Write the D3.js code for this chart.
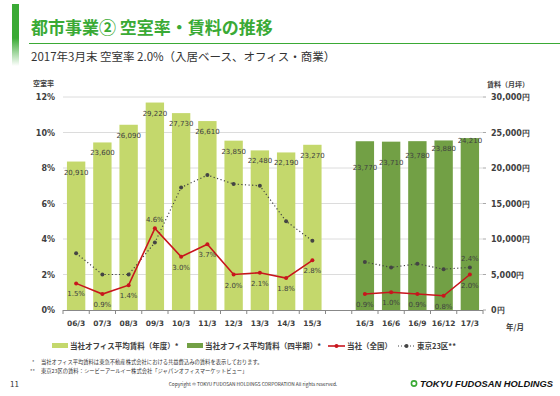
<!DOCTYPE html>
<html>
<head>
<meta charset="utf-8">
<script src="https://cdn.jsdelivr.net/npm/d3@7"></script>
<style>
  body { margin: 0; background: #fff; }
  svg { font-family: "Noto Sans CJK JP", "Noto Sans", sans-serif; }
</style>
</head>
<body>
<svg width="560" height="396"></svg>
<script>
var svg = d3.select('svg');

// annual (fiscal year) series
var annualLabels = ['06/3', '07/3', '08/3', '09/3', '10/3', '11/3', '12/3', '13/3', '14/3', '15/3'];
var annualRent = [20910, 23600, 26090, 29220, 27730, 26610, 23850, 22480, 22190, 23270];
var annualVacancy = [1.5, 0.9, 1.4, 4.6, 3.0, 3.7, 2.0, 2.1, 1.8, 2.8];
var annualTokyo = [3.2, 2.0, 2.0, 3.8, 6.9, 7.6, 7.1, 7.0, 5.0, 3.9];

// quarterly series
var quarterLabels = ['16/3', '16/6', '16/9', '16/12', '17/3'];
var quarterRent = [23770, 23710, 23780, 23880, 24210];
var quarterVacancy = [0.9, 1.0, 0.9, 0.8, 2.0];
var quarterTokyo = [2.7, 2.4, 2.6, 2.3, 2.4];

var vacancyTicks = [0, 2, 4, 6, 8, 10, 12];
var rentTicks = [0, 5000, 10000, 15000, 20000, 25000, 30000];

var categories = annualLabels.concat([' '], quarterLabels);

var x = d3.scaleBand().domain(categories).range([63, 483]).paddingInner(0.3).paddingOuter(0.15);
var yV = d3.scaleLinear().domain([0, 12]).range([310, 97]);
var yR = d3.scaleLinear().domain([0, 30000]).range([310, 97]);

var textCol = '#404040';
var lightGreen = '#c4d86c';
var darkGreen = '#72a045';
var red = '#c8161d';
var numFont = 'Verdana, DejaVu Sans, sans-serif';

// header
var grad = svg.append('defs').append('linearGradient')
    .attr('id', 'side').attr('x1', 0).attr('y1', 0).attr('x2', 0).attr('y2', 1);
grad.append('stop').attr('offset', '0%').attr('stop-color', '#3aaa35');
grad.append('stop').attr('offset', '55%').attr('stop-color', '#3aaa35');
grad.append('stop').attr('offset', '100%').attr('stop-color', '#ffffff');
svg.append('rect').attr('x', 12).attr('y', 4).attr('width', 7).attr('height', 62).attr('fill', 'url(#side)');

svg.append('text').attr('x', 31).attr('y', 34)
    .attr('font-size', 17).attr('font-weight', 'bold').attr('fill', '#3aaa35')
    .text('都市事業② 空室率・賃料の推移');
svg.append('line').attr('x1', 29).attr('x2', 560).attr('y1', 43.5).attr('y2', 43.5)
    .attr('stroke', '#3aaa35').attr('stroke-width', 1);
svg.append('text').attr('x', 31).attr('y', 61)
    .attr('font-size', 11.5).attr('fill', '#333')
    .text('2017年3月末 空室率 2.0%（入居ベース、オフィス・商業）');

// grid
var g = svg.append('g');
g.selectAll('.grid').data(vacancyTicks.slice(1)).enter().append('line')
    .attr('x1', 63).attr('x2', 483)
    .attr('y1', function(d) { return yV(d); }).attr('y2', function(d) { return yV(d); })
    .attr('stroke', '#dcdcdc').attr('stroke-width', 1);

// bars
g.selectAll('.abar').data(annualLabels).enter().append('rect')
    .attr('x', function(d) { return x(d); })
    .attr('width', x.bandwidth())
    .attr('y', function(d, i) { return yR(annualRent[i]); })
    .attr('height', function(d, i) { return 310 - yR(annualRent[i]); })
    .attr('fill', lightGreen);
g.selectAll('.qbar').data(quarterLabels).enter().append('rect')
    .attr('x', function(d) { return x(d); })
    .attr('width', x.bandwidth())
    .attr('y', function(d, i) { return yR(quarterRent[i]); })
    .attr('height', function(d, i) { return 310 - yR(quarterRent[i]); })
    .attr('fill', darkGreen);

// x axis
var cx = function(d) { return x(d) + x.bandwidth() / 2; };
g.append('line').attr('x1', 63).attr('x2', 483).attr('y1', 310.5).attr('y2', 310.5)
    .attr('stroke', '#888');
g.selectAll('.xt').data(d3.range(categories.length + 1)).enter().append('line')
    .attr('x1', function(i) { return 63 + i * (420 / categories.length); })
    .attr('x2', function(i) { return 63 + i * (420 / categories.length); })
    .attr('y1', 310).attr('y2', 314).attr('stroke', '#888');
g.selectAll('.xl').data(categories).enter().append('text')
    .attr('x', cx).attr('y', 326)
    .attr('text-anchor', 'middle').attr('font-size', 7.5).attr('font-weight', 'bold')
    .attr('fill', textCol).attr('font-family', numFont)
    .text(function(d) { return d; });

// left axis
g.selectAll('.yl').data(vacancyTicks).enter().append('text')
    .attr('x', 55).attr('y', function(d) { return yV(d) + 3; })
    .attr('text-anchor', 'end').attr('font-size', 8).attr('font-weight', 'bold')
    .attr('fill', textCol).attr('font-family', numFont)
    .text(function(d) { return d + '%'; });
svg.append('text').attr('x', 33).attr('y', 86).attr('font-size', 7).attr('font-weight', 'bold')
    .attr('fill', textCol).text('空室率');

// right axis
g.selectAll('.rt').data(rentTicks).enter().append('line')
    .attr('x1', 483).attr('x2', 486)
    .attr('y1', function(d) { return yR(d); }).attr('y2', function(d) { return yR(d); })
    .attr('stroke', '#aaa');
g.selectAll('.rl').data(rentTicks).enter().append('text')
    .attr('x', 491).attr('y', function(d) { return yR(d) + 3; })
    .attr('font-size', 8).attr('font-weight', 'bold')
    .attr('fill', textCol).attr('font-family', numFont)
    .text(function(d) { return d3.format(',')(d) + '円'; });
svg.append('text').attr('x', 487).attr('y', 87).attr('font-size', 7).attr('font-weight', 'bold')
    .attr('fill', textCol).text('賃料（月坪）');
svg.append('text').attr('x', 506).attr('y', 330).attr('font-size', 7.5).attr('font-weight', 'bold')
    .attr('fill', textCol).text('年/月');

// rent labels
g.selectAll('.ral').data(annualLabels).enter().append('text')
    .attr('x', cx).attr('y', function(d, i) { return yR(annualRent[i]) + 13; })
    .attr('text-anchor', 'middle').attr('font-size', 7).attr('font-family', numFont)
    .attr('fill', textCol).text(function(d, i) { return d3.format(',')(annualRent[i]); });
g.selectAll('.rql').data(quarterLabels).enter().append('text')
    .attr('x', cx).attr('y', function(d, i) { return yR(quarterRent[i]) + 29 - i * 6; })
    .attr('text-anchor', 'middle').attr('font-size', 7).attr('font-family', numFont)
    .attr('fill', textCol).text(function(d, i) { return d3.format(',')(quarterRent[i]); });

// lines
var line = function(labels, vals) {
    return d3.line().x(function(d, i) { return cx(labels[i]); }).y(function(d) { return yV(d); })(vals);
};
[[annualLabels, annualTokyo], [quarterLabels, quarterTokyo]].forEach(function(s) {
    g.append('path').attr('d', line(s[0], s[1])).attr('fill', 'none')
        .attr('stroke', '#444').attr('stroke-width', 1.2).attr('stroke-dasharray', '1.2,2.4');
    g.selectAll(null).data(s[1]).enter().append('circle')
        .attr('cx', function(d, i) { return cx(s[0][i]); }).attr('cy', function(d) { return yV(d); })
        .attr('r', 2).attr('fill', '#444');
});
[[annualLabels, annualVacancy], [quarterLabels, quarterVacancy]].forEach(function(s) {
    g.append('path').attr('d', line(s[0], s[1])).attr('fill', 'none')
        .attr('stroke', red).attr('stroke-width', 1.6);
    g.selectAll(null).data(s[1]).enter().append('circle')
        .attr('cx', function(d, i) { return cx(s[0][i]); }).attr('cy', function(d) { return yV(d); })
        .attr('r', 2).attr('fill', red);
    g.selectAll(null).data(s[1]).enter().append('text')
        .attr('x', function(d, i) { return cx(s[0][i]); })
        .attr('y', function(d) { return d > 4 ? yV(d) - 6 : yV(d) + 13; })
        .attr('text-anchor', 'middle').attr('font-size', 7).attr('font-family', numFont)
        .attr('fill', textCol).text(function(d) { return d.toFixed(1) + '%'; });
});
// latest Tokyo label
var lastT = quarterTokyo[quarterTokyo.length - 1];
g.append('text').attr('x', cx('17/3')).attr('y', yV(lastT) - 6)
    .attr('text-anchor', 'middle').attr('font-size', 7).attr('font-family', numFont)
    .attr('fill', textCol).text(lastT.toFixed(1) + '%');

// legend
var lg = svg.append('g').attr('font-size', 7.5).attr('font-weight', 'bold').attr('fill', textCol);
lg.append('rect').attr('x', 52).attr('y', 343).attr('width', 16).attr('height', 5).attr('fill', lightGreen);
lg.append('text').attr('x', 70).attr('y', 349).text('当社オフィス平均賃料（年度）*');
lg.append('rect').attr('x', 187).attr('y', 343).attr('width', 16).attr('height', 5).attr('fill', darkGreen);
lg.append('text').attr('x', 205).attr('y', 349).text('当社オフィス平均賃料（四半期）*');
lg.append('line').attr('x1', 328).attr('x2', 345).attr('y1', 346).attr('y2', 346).attr('stroke', red).attr('stroke-width', 1.6);
lg.append('circle').attr('cx', 336.5).attr('cy', 346).attr('r', 2).attr('fill', red);
lg.append('text').attr('x', 347).attr('y', 349).text('当社（全国）');
lg.append('line').attr('x1', 398).attr('x2', 415).attr('y1', 346).attr('y2', 346).attr('stroke', '#444')
    .attr('stroke-width', 1).attr('stroke-dasharray', '1,2');
lg.append('circle').attr('cx', 406.5).attr('cy', 346).attr('r', 2).attr('fill', '#444');
lg.append('text').attr('x', 417).attr('y', 349).text('東京23区**');

// footnotes
var fn = svg.append('g').attr('font-size', 5.3).attr('fill', '#333');
fn.append('text').attr('x', 32).attr('y', 364).text('*');
fn.append('text').attr('x', 41).attr('y', 364).text('当社オフィス平均賃料は東急不動産株式会社における共益費込みの賃料を表示しております。');
fn.append('text').attr('x', 30).attr('y', 373).text('**');
fn.append('text').attr('x', 41).attr('y', 373).text('東京23区の賃料：シービーアールイー株式会社「ジャパンオフィスマーケットビュー」');

svg.append('text').attr('x', 10).attr('y', 387).attr('font-size', 8).attr('fill', '#333').text('11');
svg.append('text').attr('x', 253).attr('y', 386).attr('text-anchor', 'middle').attr('font-size', 4.8)
    .attr('fill', '#333').text('Copyright © TOKYU FUDOSAN HOLDINGS CORPORATION All rights reserved.');
svg.append('circle').attr('cx', 414).attr('cy', 383.5).attr('r', 2.6).attr('fill', 'none')
    .attr('stroke', '#3aaa35').attr('stroke-width', 1.6);
svg.append('text').attr('x', 420).attr('y', 387).attr('font-size', 8.6).attr('font-weight', 'bold')
    .attr('font-style', 'italic').attr('fill', '#111').attr('font-family', 'Liberation Sans, Arial, sans-serif')
    .attr('textLength', 133).attr('lengthAdjust', 'spacingAndGlyphs')
    .text('TOKYU FUDOSAN HOLDINGS');
</script>
</body>
</html>
